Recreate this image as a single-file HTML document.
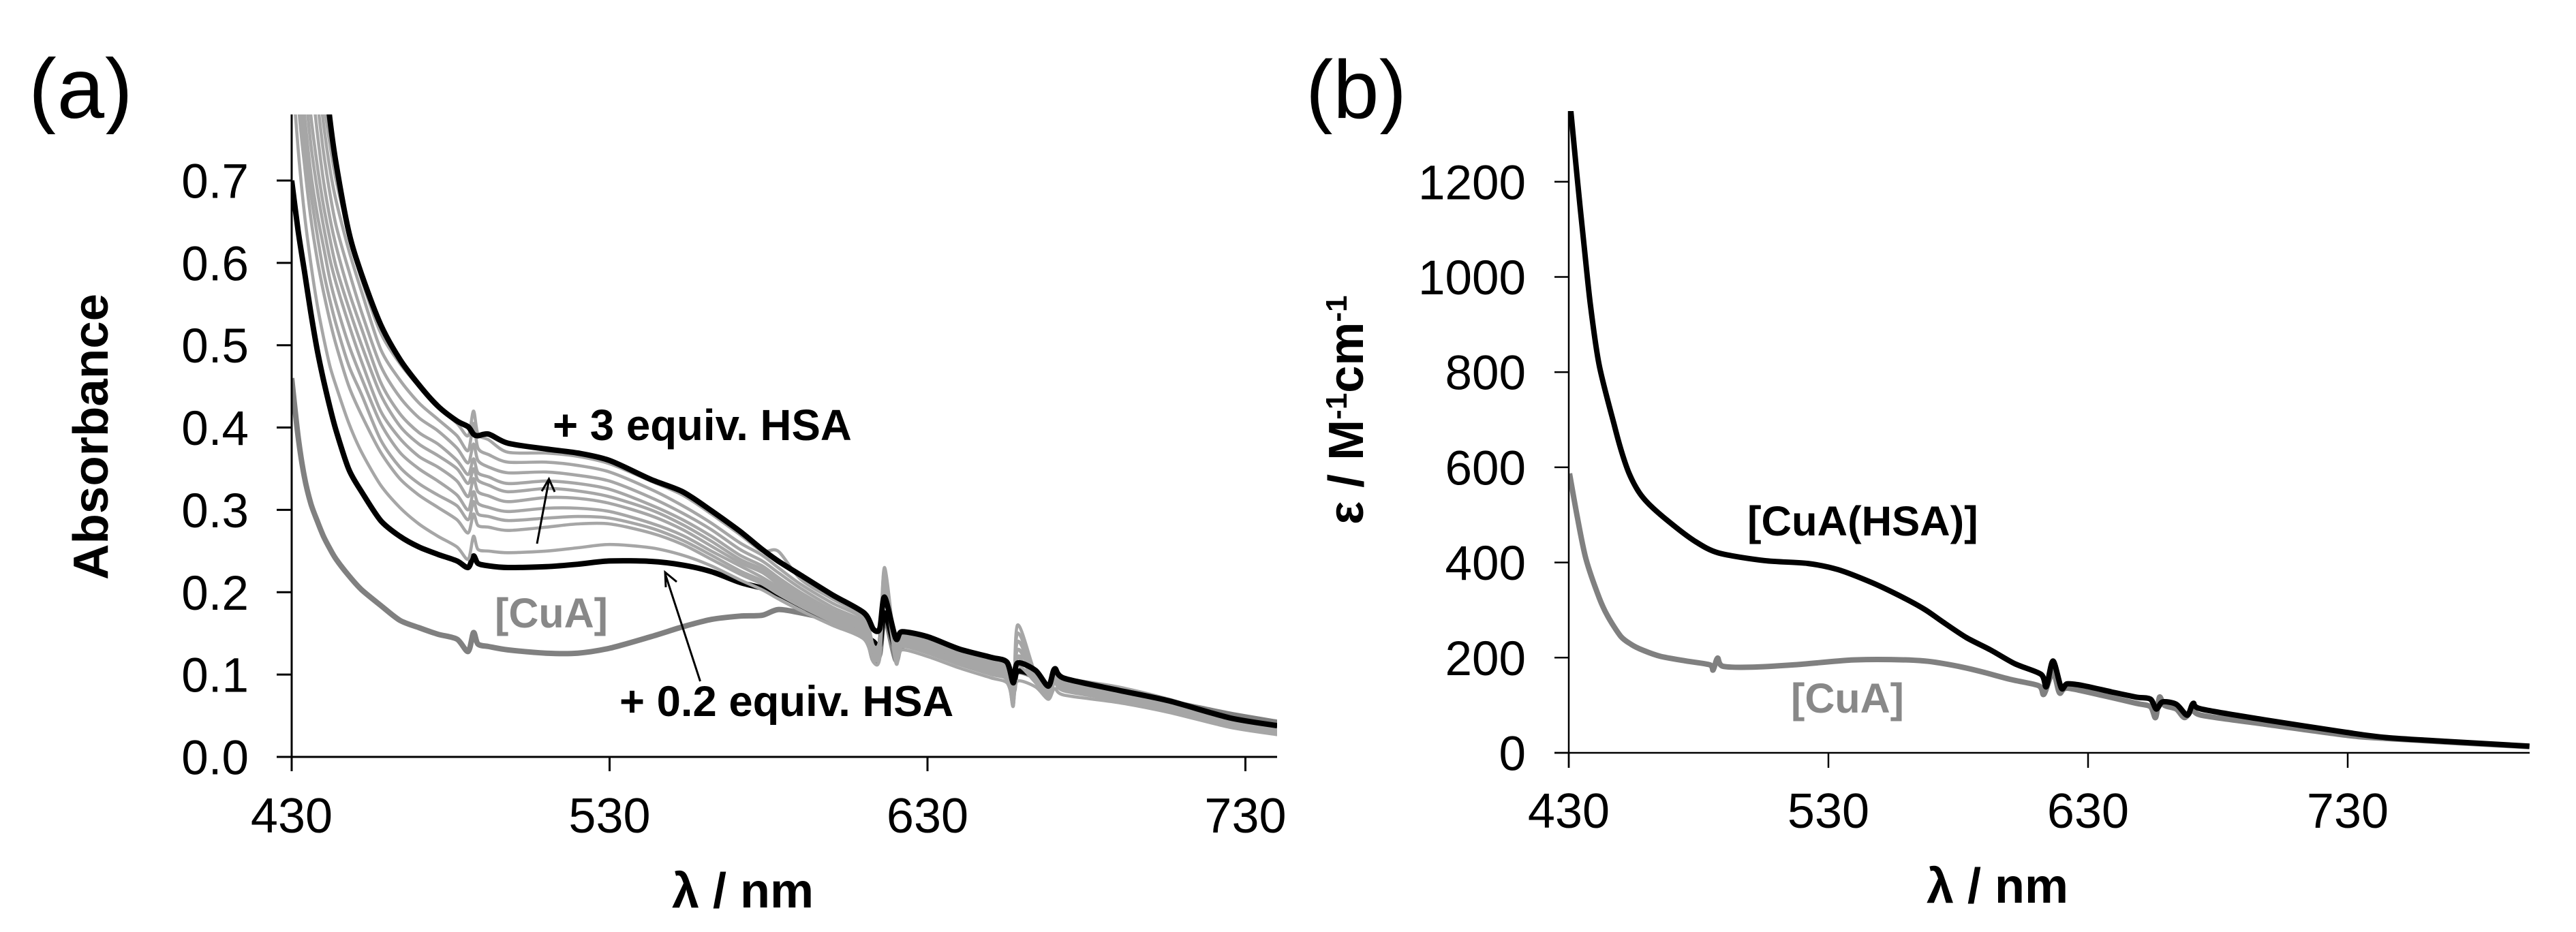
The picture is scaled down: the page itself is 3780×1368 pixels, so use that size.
<!DOCTYPE html>
<html lang="en"><head><meta charset="utf-8"><title>UV-Vis titration spectra</title>
<style>html,body{margin:0;padding:0;background:#fff}svg{display:block}text{font-family:"Liberation Sans",Arial,sans-serif}</style></head>
<body>
<svg id="fig" xmlns="http://www.w3.org/2000/svg" width="3780" height="1368" viewBox="0 0 3780 1368">
<defs>
<clipPath id="clipA"><rect x="428" y="168" width="1446" height="943"/></clipPath>
<clipPath id="clipB"><rect x="2302" y="163" width="1410" height="942"/></clipPath>
<clipPath id="clipLabelA"><rect x="30" y="83" width="190" height="114"/></clipPath>
<clipPath id="clipLabelB"><rect x="1900" y="83" width="190" height="114"/></clipPath>
</defs>
<rect width="3780" height="1368" fill="#fff"/>
<g clip-path="url(#clipLabelA)"><text x="42" y="173" font-size="125">(a)</text></g>
<g clip-path="url(#clipLabelB)"><text x="1916" y="173" font-size="121">(b)</text></g>
<g id="seriesA" clip-path="url(#clipA)"></g>
<g id="seriesB" clip-path="url(#clipB)"></g>
<g id="axes"></g>
<text transform="translate(158,851) rotate(-90)" font-size="72.7" font-weight="700">Absorbance</text>
<text x="1090" y="1332" text-anchor="middle" font-size="72" font-weight="700">λ / nm</text>
<text transform="translate(2000,770) rotate(-90)" font-size="72" font-weight="700">ε / M<tspan font-size="44" dy="-24">-1</tspan><tspan dy="24">cm</tspan><tspan font-size="44" dy="-24">-1</tspan></text>
<text x="2931" y="1325" text-anchor="middle" font-size="72" font-weight="700">λ / nm</text>
<text x="811" y="646" font-size="63.6" font-weight="700">+ 3 equiv. HSA</text>
<text x="909" y="1051" font-size="63.4" font-weight="700">+ 0.2 equiv. HSA</text>
<text x="726" y="921" font-size="61" font-weight="700" fill="#888">[CuA]</text>
<text x="2564" y="786" font-size="61.6" font-weight="700">[CuA(HSA)]</text>
<text x="2628" y="1046" font-size="61" font-weight="700" fill="#888">[CuA]</text>
<g fill="none" stroke="#000" stroke-width="3">
<path d="M788 798L805.5 705M795 721L805.5 703L814 722"/>
<path d="M1027.5 1000L976 842M977 862L976 840L993 854"/>
</g>
</svg>
<script>
// Panel (a): wavelength grid and absorbance series
const wavelengthsA = [430,432,434,436,438,440,442,444,448,452,458,464,470,476,482,485.5,487.2,488.6,492,498,510,520,530,543,553,562,571,578,583,590,600,610,613,615,616.5,620,622,630,640,650,655,657,658.3,664,668,670,673,690,706,725,740];
const absCuA = [.46,.39,.34,.308,.287,.268,.253,.24,.22,.203,.184,.166,.157,.149,.143,.128,.151,.137,.134,.13,.126,.126,.132,.146,.158,.167,.171,.172,.179,.175,.166,.152,.118,.125,.17,.118,.135,.13,.119,.109,.104,.08,.103,.096,.08,.097,.09,.078,.067,.052,.042];
const absLowHSA = [.70,.64,.59,.54,.495,.458,.425,.396,.349,.322,.287,.268,.255,.246,.238,.23,.244,.235,.232,.23,.231,.234,.238,.2375,.233,.225,.212,.205,.198,.184,.165,.147,.14,.135,.175,.13,.136,.131,.12,.11,.106,.085,.104,.098,.083,.098,.09,.076,.063,.046,.037];
const absG1 = [.84,.74,.66,.6,.55,.51,.475,.45,.405,.37,.33,.303,.283,.268,.255,.24,.268,.252,.25,.248,.25,.254,.258,.254,.245,.232,.215,.203,.192,.178,.16,.143,.115,.12,.205,.115,.13,.122,.108,.096,.09,.07,.092,.085,.07,.083,.075,.066,.054,.036,.027];
const absG2 = [.95,.80,.72,.655,.605,.565,.53,.50,.45,.415,.37,.338,.318,.303,.288,.272,.295,.281,.279,.275,.279,.283,.283,.272,.258,.24,.222,.21,.198,.183,.164,.146,.12,.125,.215,.118,.134,.126,.112,.1,.094,.065,.11,.09,.072,.09,.08,.069,.057,.038,.029];
const absG3 = [1.0,.83,.75,.685,.635,.59,.555,.525,.475,.44,.385,.352,.332,.318,.305,.288,.31,.295,.292,.287,.29,.292,.29,.278,.263,.245,.226,.214,.202,.187,.167,.15,.122,.128,.22,.12,.136,.129,.115,.103,.097,.068,.12,.092,.074,.092,.082,.071,.059,.04,.03];
const absG4 = [1.05,.86,.78,.71,.66,.62,.58,.55,.50,.46,.405,.37,.35,.335,.318,.30,.322,.308,.303,.298,.302,.302,.298,.284,.269,.25,.232,.218,.206,.19,.17,.152,.122,.13,.222,.122,.138,.132,.118,.106,.1,.066,.13,.094,.076,.094,.084,.073,.06,.041,.031];
const absG5 = [1.1,.9,.82,.745,.69,.645,.605,.575,.525,.48,.42,.387,.365,.352,.335,.316,.338,.322,.317,.31,.315,.314,.308,.293,.276,.256,.236,.224,.21,.194,.173,.154,.125,.132,.224,.124,.14,.135,.12,.108,.102,.064,.14,.096,.078,.096,.086,.075,.062,.043,.032];
const absG6 = [1.15,.95,.86,.78,.72,.67,.63,.595,.545,.5,.44,.402,.38,.366,.35,.332,.35,.336,.33,.322,.326,.323,.316,.3,.282,.262,.24,.228,.214,.197,.176,.157,.127,.134,.226,.126,.142,.137,.122,.11,.104,.062,.15,.098,.08,.098,.088,.077,.063,.044,.033];
const absG7 = [1.2,1.0,.9,.83,.76,.70,.655,.62,.565,.52,.455,.417,.394,.38,.36,.343,.362,.345,.34,.332,.335,.332,.325,.306,.288,.268,.245,.232,.218,.2,.178,.16,.128,.136,.228,.128,.144,.14,.125,.113,.107,.062,.16,.1,.082,.1,.09,.079,.065,.045,.034];
const absG8 = [1.25,1.05,.95,.87,.80,.735,.685,.645,.59,.54,.475,.437,.412,.396,.375,.357,.38,.36,.352,.345,.346,.342,.335,.315,.296,.276,.252,.238,.224,.205,.182,.163,.13,.138,.23,.13,.146,.142,.127,.115,.109,.064,.14,.102,.084,.102,.092,.081,.067,.046,.035];
const absG9 = [1.3,1.1,1.0,.91,.84,.77,.715,.675,.615,.565,.495,.458,.43,.41,.39,.372,.405,.375,.367,.358,.358,.354,.346,.325,.305,.284,.26,.245,.23,.21,.187,.167,.132,.14,.215,.132,.148,.144,.129,.117,.111,.07,.13,.104,.086,.104,.094,.083,.068,.047,.036];
const absG10 = [1.35,1.15,1.05,.96,.88,.80,.745,.70,.635,.58,.515,.478,.45,.425,.405,.39,.42,.392,.385,.37,.369,.365,.356,.335,.318,.295,.27,.25,.25,.216,.192,.17,.135,.142,.21,.134,.15,.146,.131,.119,.113,.075,.122,.106,.088,.106,.096,.085,.07,.048,.037];
const absHighHSA = [1.6,1.4,1.2,1.05,.94,.85,.775,.72,.637,.586,.525,.483,.452,.426,.408,.401,.392,.39,.392,.381,.374,.369,.36,.337,.322,.299,.274,.252,.238,.221,.197,.175,.155,.156,.194,.144,.152,.146,.131,.121,.115,.09,.114,.105,.086,.107,.0955,.081,.068,.0475,.038];
const grayLinesA = [absG1,absG2,absG3,absG4,absG5,absG6,absG7,absG8,absG9,absG10];
const yTicksA = ["0.0","0.1","0.2","0.3","0.4","0.5","0.6","0.7"];
const xTicksA = [430,530,630,730];

// Panel (b): molar absorptivity series
const wavelengthsBHSA = [430.8,433.3,435.8,438.3,441.7,447.6,450.5,453.4,457,461,468.5,478.5,487.7,505.3,522,533.7,547,558.9,567.2,573.8,583.2,592.5,601.9,611.9,613.9,616.5,619.7,622,628.3,639,648.6,654,656.3,658.7,664,668.2,670.5,673.6,698.4,729.5,745,768,800];
const epsHSA = [1349,1205,1071,943,815,687,630,585,548,522,486,445,420,404,398,385,357,326,301,276,242,216,187,165,139,193,136,145,141,128,117,113,92,107,102,79,104,92,69,43,32,24,14];
const wavelengthsBCuA = [430.3,433.3,436.6,441.7,445,450,454,458.4,465.2,475.2,484.3,485.6,487.3,489.3,500.4,517,538.8,554,567.2,573.8,581.6,589.3,600.3,611,613,616.5,619,622,636,648.6,654,656,657.5,659.4,664,667.2,670.5,673.6,698.4,729.5,745,800];
const epsCuA = [587,495,408,326,287,245,228,216,203,193,185,174,199,182,180,185,195,196,193,188,180,170,154,141,123,170,126,136,120,104,97,74,117,100,92,74,92,79,60,37,30,13];
const yTicksB = [0,200,400,600,800,1000,1200];
const xTicksB = [430,530,630,730];

const NS = "http://www.w3.org/2000/svg";
const xA = l => 428 + 4.665 * (l - 430);
const yA = v => 1111 - 1208.6 * v;
const xB = l => 2302 + 3.81 * (l - 430);
const yB = v => 1105 - 0.6985 * v;

function makeLine(parent, xs, ys, fx, fy, color, width) {
  const pts = xs.map((l, i) => [fx(l), fy(ys[i])]);
  let d = "M" + pts[0][0].toFixed(1) + " " + pts[0][1].toFixed(1);
  for (let i = 0; i < pts.length - 1; i++) {
    const p0 = pts[Math.max(i - 1, 0)], p1 = pts[i], p2 = pts[i + 1], p3 = pts[Math.min(i + 2, pts.length - 1)];
    const k = 0.14;
    d += "C" + (p1[0] + (p2[0] - p0[0]) * k).toFixed(1) + " " + (p1[1] + (p2[1] - p0[1]) * k).toFixed(1) + " "
      + (p2[0] - (p3[0] - p1[0]) * k).toFixed(1) + " " + (p2[1] - (p3[1] - p1[1]) * k).toFixed(1) + " "
      + p2[0].toFixed(1) + " " + p2[1].toFixed(1);
  }
  const p = document.createElementNS(NS, "path");
  p.setAttribute("d", d);
  p.setAttribute("fill", "none");
  p.setAttribute("stroke", color);
  p.setAttribute("stroke-width", width);
  p.setAttribute("stroke-linejoin", "round");
  parent.appendChild(p);
  return p;
}
function makeRule(x1, y1, x2, y2, w) {
  const r = document.createElementNS(NS, "line");
  r.setAttribute("x1", x1); r.setAttribute("y1", y1);
  r.setAttribute("x2", x2); r.setAttribute("y2", y2);
  r.setAttribute("stroke", "#000"); r.setAttribute("stroke-width", w);
  document.getElementById("axes").appendChild(r);
  return r;
}
function makeLabel(x, y, txt, anchor, size) {
  const t = document.createElementNS(NS, "text");
  t.setAttribute("x", x); t.setAttribute("y", y);
  t.setAttribute("text-anchor", anchor); t.setAttribute("font-size", size);
  t.textContent = txt;
  document.getElementById("axes").appendChild(t);
  return t;
}

const gA = document.getElementById("seriesA");
const gB = document.getElementById("seriesB");
let el;
el = makeLine(gA, wavelengthsA, absCuA, xA, yA, "#808080", 8);


el = makeLine(gA, wavelengthsA, absLowHSA, xA, yA, "#000", 8);


grayLinesA.forEach(vals => {
  const g = makeLine(gA, wavelengthsA, vals, xA, yA, "#a6a6a6", 4.6);
  
  
});
el = makeLine(gA, wavelengthsA, absHighHSA, xA, yA, "#000", 8);


el = makeLine(gB, wavelengthsBCuA, epsCuA, xB, yB, "#808080", 8);


el = makeLine(gB, wavelengthsBHSA, epsHSA, xB, yB, "#000", 8);



// axes
el = makeRule(428, 168, 428, 1132, 3);


el = makeRule(406, 1111, 1874, 1111, 3);


el = makeRule(2302, 163, 2302, 1127, 2.5);


el = makeRule(2281, 1105, 3712, 1105, 2.5);



yTicksA.forEach(s => {
  const y = yA(parseFloat(s));
  const tick = makeRule(406, y, 428, y, 3);
  
  
  const lab = makeLabel(365, y + 25.5, s, "end", 71);
  
  
});
xTicksA.forEach(v => {
  const x = xA(v);
  const tick = makeRule(x, 1111, x, 1132, 3);
  
  
  const lab = makeLabel(x, 1222, String(v), "middle", 72);
  
  
});
yTicksB.forEach(v => {
  const y = yB(v);
  const tick = makeRule(2281, y, 2302, y, 2.5);
  
  
  const lab = makeLabel(2239, y + 25.5, String(v), "end", 71);
  
  
});
xTicksB.forEach(v => {
  const x = xB(v);
  const tick = makeRule(x, 1105, x, 1127, 2.5);
  
  
  const lab = makeLabel(x, 1215, String(v), "middle", 72);
  
  
});
</script>
</body></html>
